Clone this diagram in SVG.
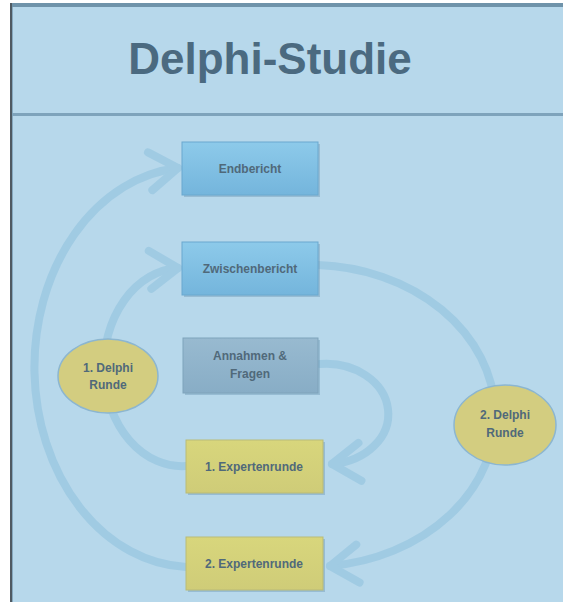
<svg xmlns="http://www.w3.org/2000/svg" width="563" height="602" viewBox="0 0 563 602">
<defs>
<style>
.lbl{font-family:"Liberation Sans",Arial,sans-serif;font-size:12px;font-weight:bold;fill:#50697a;text-anchor:middle}
.title{font-family:"Liberation Sans",Arial,sans-serif;font-size:44px;font-weight:bold;fill:#4b6a80;text-anchor:middle}
.arc{fill:none;stroke:#9ecae3;stroke-width:8;stroke-linecap:round;opacity:0.9}
.shadow{fill:#5d8aa6;opacity:0.35}
.blue{fill:url(#gBlue);stroke:#6aa8cf;stroke-width:1}
.grey{fill:url(#gGrey);stroke:#7fa3bb;stroke-width:1}
.yellow{fill:url(#gYel);stroke:#b9bb78;stroke-width:1}
.ell{fill:#d3cd80;stroke:#8cb6d0;stroke-width:1.5}
</style>
<linearGradient id="gBlue" x1="0" y1="0" x2="0" y2="1">
<stop offset="0" stop-color="#8dcaea"/><stop offset="1" stop-color="#74b5dc"/>
</linearGradient>
<linearGradient id="gGrey" x1="0" y1="0" x2="0" y2="1">
<stop offset="0" stop-color="#98bad0"/><stop offset="1" stop-color="#88adc6"/>
</linearGradient>
<linearGradient id="gYel" x1="0" y1="0" x2="0" y2="1">
<stop offset="0" stop-color="#d8d67c"/><stop offset="1" stop-color="#cfcc78"/>
</linearGradient>
<marker id="chev" markerUnits="userSpaceOnUse" markerWidth="60" markerHeight="60" refX="0" refY="0" viewBox="-40 -30 50 60" orient="auto">
<path d="M-28,-19 L0,0 L-28,19" fill="none" stroke="#9ecae3" stroke-width="8" stroke-linecap="round" stroke-linejoin="round"/>
</marker>
</defs>
<rect x="0" y="0" width="563" height="602" fill="#ffffff"/>
<rect x="10" y="3" width="553" height="599" fill="#b7d8eb"/>
<rect x="10" y="3" width="553" height="4" fill="#6f93aa"/>
<rect x="10" y="3" width="2" height="599" fill="#4f5a62"/>
<rect x="12" y="7" width="1" height="595" fill="#86a9bf"/>
<rect x="12" y="113" width="551" height="3" fill="#7ea3bb"/>
<text class="title" x="270" y="74">Delphi-Studie</text>
<g id="connectors">
<path class="arc" d="M186,567 A158 200 0 0 1 178,168" marker-end="url(#chev)"/>
<path class="arc" d="M186,466 A78 99 0 0 1 178,268" marker-end="url(#chev)"/>
<path class="arc" d="M320,364 A62 50 0 0 1 332,464" marker-end="url(#chev)"/>
<path class="arc" d="M318,265 A185 151 0 0 1 330,566" marker-end="url(#chev)"/>
</g>
<g id="endbericht">
<rect class="shadow" x="184" y="144" width="136" height="53"/>
<rect class="blue" x="182" y="142" width="136" height="53"/>
<text class="lbl" x="250" y="173">Endbericht</text>
</g>
<g id="zwischenbericht">
<rect class="shadow" x="184" y="244" width="136" height="53"/>
<rect class="blue" x="182" y="242" width="136" height="53"/>
<text class="lbl" x="250" y="273">Zwischenbericht</text>
</g>
<g id="annahmen">
<rect class="shadow" x="185" y="340" width="135" height="55"/>
<rect class="grey" x="183" y="338" width="135" height="55"/>
<text class="lbl" x="250" y="360">Annahmen &amp;</text>
<text class="lbl" x="250" y="378">Fragen</text>
</g>
<g id="experten1">
<rect class="shadow" x="188" y="442" width="137" height="53"/>
<rect class="yellow" x="186" y="440" width="137" height="53"/>
<text class="lbl" x="254" y="471">1. Expertenrunde</text>
</g>
<g id="experten2">
<rect class="shadow" x="188" y="539" width="137" height="53"/>
<rect class="yellow" x="186" y="537" width="137" height="53"/>
<text class="lbl" x="254" y="568">2. Expertenrunde</text>
</g>
<g id="delphi1">
<ellipse class="ell" cx="108" cy="376" rx="50" ry="37"/>
<text class="lbl" x="108" y="372">1. Delphi</text>
<text class="lbl" x="108" y="389">Runde</text>
</g>
<g id="delphi2">
<ellipse class="ell" cx="505" cy="425" rx="51" ry="40"/>
<text class="lbl" x="505" y="419">2. Delphi</text>
<text class="lbl" x="505" y="437">Runde</text>
</g>
</svg>
